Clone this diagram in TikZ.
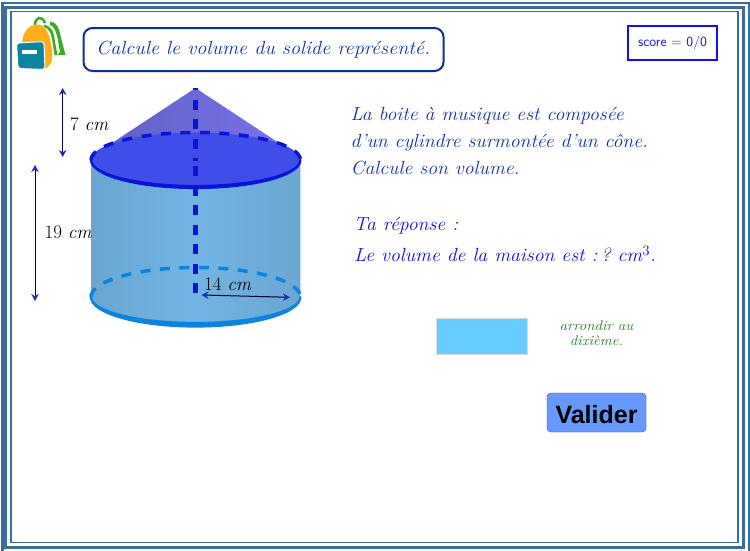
\documentclass[tikz,border=0pt]{standalone}
\usepackage{fontspec}
\newfontfamily\helvb{Liberation Sans}
\usetikzlibrary{arrows.meta}
\definecolor{frameblue}{HTML}{3A6C9C}
\definecolor{txtblue}{HTML}{0F35B0}
\definecolor{brightblue}{HTML}{1010F5}
\definecolor{boxnavy}{HTML}{0A2F9A}
\definecolor{cylmid}{HTML}{72B4E4}
\definecolor{cyledge}{HTML}{6AA6D0}
\definecolor{topblue}{HTML}{0A14D8}
\definecolor{botblue}{HTML}{0A84E0}
\definecolor{coneL}{HTML}{5F62C4}
\definecolor{coneR}{HTML}{7A70EA}
\definecolor{diskfill}{HTML}{3F4EE8}
\definecolor{inputfill}{HTML}{66CCFF}
\definecolor{btnfill}{HTML}{6699FF}
\definecolor{greentxt}{HTML}{1F7F1F}
\definecolor{packorange}{HTML}{FFAE1A}
\definecolor{packteal}{HTML}{0C85A0}
\definecolor{packgreen}{HTML}{3DAA24}
\definecolor{headblue}{HTML}{1030C0}
\newcommand{\widened}[2]{\scalebox{#1}[1]{#2}}
\tikzset{
 x=1pt,y=-1pt,
 framed/.style={draw=frameblue,line width=#1},
 body/.style={text=#1,font=\fontsize{19}{22}\selectfont\itshape,anchor=west,inner sep=0pt},
 dimlbl/.style={text=black,font=\fontsize{19}{22}\selectfont,inner sep=0pt,anchor=west},
 dimarrow/.style={draw=black!80!blue,line width=1pt,{Stealth[length=7pt,width=7.5pt,color=headblue]}-{Stealth[length=7pt,width=7.5pt,color=headblue]}},
 axisdash/.style={draw=topblue,line width=4.5pt,dash pattern=on 10pt off 9.5pt},
 rimfront/.style={draw=#1,fill=#1,line width=2.2pt,line join=round},
 rimback/.style={draw=#1,line width=3.5pt,dash pattern=on 10pt off 9.5pt},
}
\begin{document}
\begin{tikzpicture}
\useasboundingbox (0,0) rectangle (750,550);
\fill[white] (0,0) rectangle (750,550);
\draw[framed=2.5pt] (2.5,3) rectangle (749,552);
\draw[framed=3.3pt] (5.7,7.7) rectangle (743.3,547.3);
\draw[framed=1.8pt] (11,11.5) rectangle (738.2,542.5);
% backpack
\draw[packgreen,line width=2.5pt] (35,25) .. controls (35,17) and (42,15) .. (45,23);
\fill[packgreen] (44,24.5) .. controls (51,26) and (54,31) .. (55,42) -- (57.5,55) -- (54.5,55) -- (52.5,42) .. controls (51,32) and (49,29) .. (44,27) -- cycle;
\fill[packgreen] (50,22) .. controls (56,21) and (59,27) .. (61,38) -- (65.5,55) -- (57.5,55) -- (60,52) -- (58,40) .. controls (56,31) and (54,26) .. (50,25) -- cycle;
\fill[packorange] (22,43) .. controls (23,30) and (30,25) .. (36,24.5) .. controls (45,23) and (50,34) .. (52,50) .. controls (53,60) and (51,67) .. (44,69) -- (30,50) -- cycle;
\fill[packteal,rounded corners=3pt,draw=white,line width=1pt] (16.5,43) -- (44,41.5) -- (45,69.5) -- (18,68.5) -- cycle;
\fill[white] (22,49.5) rectangle (37,54);
% title
\node[draw=boxnavy,line width=2pt,rounded corners=9pt,minimum width=360pt,minimum height=43pt,anchor=west,inner sep=0pt] (title) at (82.5,49.5) {};
\node[body=txtblue,anchor=west] (titletext) at (96,49.5) {\widened{1.06}{Calcule le volume du solide représenté.}};
% score
\node[draw=brightblue,line width=2pt,minimum width=89pt,minimum height=34pt,text=brightblue,font=\sffamily\fontsize{14}{16}\selectfont] (score) at (672.5,43) {score = 0/0};
% solid
\shade[left color=coneL,right color=coneR] (195.5,88) -- (112,143) -- (279,143) -- cycle;
\shade[left color=cyledge,right color=cyledge,middle color=cylmid] (91,160) -- (91,297) arc[start angle=180,end angle=360,x radius=104.7,y radius=-29] -- (300.4,160) -- cycle;
\fill[diskfill] (195.7,160) ellipse[x radius=104.7,y radius=27.5];
\draw[axisdash,dash phase=8pt] (195.7,88) -- (195.7,161);
\draw[axisdash] (195.7,293) -- (195.7,162);
\path[rimfront=topblue] (91,160) arc[start angle=180,end angle=360,x radius=104.7,y radius=-28] arc[start angle=360,end angle=180,x radius=104.7,y radius=-26];
\draw[rimback=topblue] (91,160) arc[start angle=180,end angle=0,x radius=104.7,y radius=-27.5];
\path[rimfront=botblue] (91,297) arc[start angle=180,end angle=360,x radius=104.7,y radius=-29.5] arc[start angle=360,end angle=180,x radius=104.7,y radius=-26];
\draw[rimback=botblue] (91,297) arc[start angle=180,end angle=0,x radius=104.7,y radius=-29.5];
% dims
\coordinate (a1) at (62.7,88); \coordinate (a2) at (62.7,157);
\draw[dimarrow] (a1) -- (a2);
\coordinate (b1) at (35,165); \coordinate (b2) at (35,301);
\draw[dimarrow] (b1) -- (b2);
\coordinate (c1) at (201.5,295); \coordinate (c2) at (290,297.3);
\draw[dimarrow] (c1) -- (c2);
\node[dimlbl] (h1) at (70,124.5) {7 \textit{cm}};
\node[dimlbl] (h2) at (44.5,232) {19 \textit{cm}};
\node[dimlbl] (h3) at (204,284.5) {14 \textit{cm}};
% text
\node[body=txtblue] (t1) at (350.5,116) {\widened{1.04}{La boite à musique est composée}};
\node[body=txtblue] (t2) at (350.5,142.5) {\widened{1.04}{d'un cylindre surmontée d'un cône.}};
\node[body=txtblue] (t3) at (350.5,168) {\widened{1.04}{Calcule son volume.}};
\node[body=brightblue] (t4) at (353.5,226) {\widened{1.04}{Ta réponse :}};
\node[body=brightblue] (t5) at (354,254) {\widened{1.04}{Le volume de la maison est :\,?\ cm$^{3}$.}};
\node[draw=black!15,line width=1pt,fill=inputfill,minimum width=91pt,minimum height=36pt,inner sep=0pt] (input) at (482,336.5) {};
\node[text=greentxt,font=\fontsize{14}{15.5}\selectfont\itshape,align=center,inner sep=0pt] (hint) at (596.5,333) {\widened{1.07}{arrondir au}\\ \widened{1.07}{dixième.}\hspace{4pt}};
\node[draw=blue!50!gray,fill=btnfill,rounded corners=4pt,minimum width=99pt,minimum height=39pt,inner sep=0pt] (btn) at (596.5,412.5) {};
\node[inner sep=0pt,text=black,font=\helvb\bfseries\fontsize{25}{27}\selectfont] (btntext) at (596.5,414.5) {Valider};
\end{tikzpicture}
\end{document}
